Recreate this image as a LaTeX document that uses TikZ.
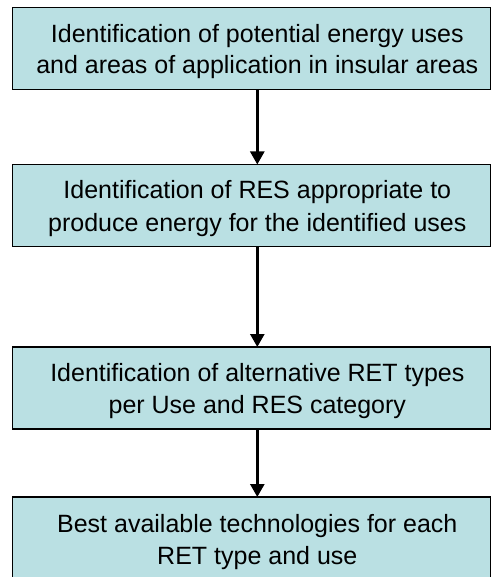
\documentclass[tikz,border=0pt]{standalone}
\usepackage{fontspec}
\setmainfont{Liberation Sans}
\usetikzlibrary{arrows.meta}
\definecolor{boxfill}{RGB}{186,224,227}
\tikzset{
  stepbox/.style={draw=black, line width=1.8pt, fill=boxfill, minimum width=478pt, minimum height=82pt, inner sep=0pt, outer sep=0pt},
  linetxt/.style={anchor=base, inner sep=0pt, font=\fontsize{25}{30.7}\selectfont},
  flow/.style={line width=2.6pt, -{Triangle[width=14pt,length=13pt]}}
}
\begin{document}
\begin{tikzpicture}[x=1pt,y=-1pt]
\useasboundingbox (0,0) rectangle (492,577);
\clip (0,0) rectangle (492,577);
\node[stepbox] (b1) at (251.5,48.5) {};
\node[stepbox] (b2) at (251.5,205.5) {};
\node[stepbox] (b3) at (251.5,388) {};
\node[stepbox] (b4) at (251.5,538) {};
\node[linetxt] (t1a) at (257.3,43) {Identification of potential energy uses};
\node[linetxt] (t1b) at (257.3,74) {and areas of application in insular areas};
\node[linetxt] (t2a) at (257.3,199) {Identification of RES appropriate to};
\node[linetxt] (t2b) at (257.3,231) {produce energy for the identified uses};
\node[linetxt] (t3a) at (257.3,381) {Identification of alternative RET types};
\node[linetxt] (t3b) at (257.3,413) {per Use and RES category};
\node[linetxt] (t4a) at (257.3,532) {Best available technologies for each};
\node[linetxt] (t4b) at (257.3,564) {RET type and use};
\draw[flow] (b1.south -| t1a.base) -- (b2.north -| t1a.base);
\draw[flow] (b2.south -| t1a.base) -- (b3.north -| t1a.base);
\draw[flow] (b3.south -| t1a.base) -- (b4.north -| t1a.base);
\end{tikzpicture}
\end{document}
